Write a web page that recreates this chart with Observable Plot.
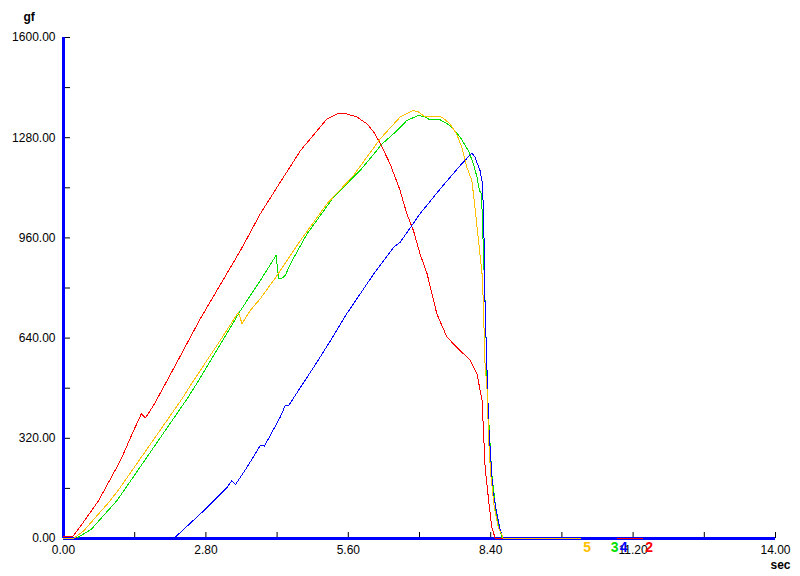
<!DOCTYPE html>
<html><head><meta charset="utf-8">
<script src="https://cdn.jsdelivr.net/npm/d3@7"></script>
<script src="https://cdn.jsdelivr.net/npm/@observablehq/plot@0.6"></script>
<style>body{margin:0;background:#fff}</style>
</head><body><div id="chart"></div>
<script>
// Tick values
const xTicks = [0, 1.4, 2.8, 4.2, 5.6, 7.0, 8.4, 9.8, 11.2, 12.6, 14];
const xLabels = [0, 2.8, 5.6, 8.4, 11.2, 14];
const yTicks = [0, 160, 320, 480, 640, 800, 960, 1120, 1280, 1440, 1600];
const yLabels = [0, 320, 640, 960, 1280, 1600];

// Series 2 (red)
const t2 = [0, 0.18, 0.33, 0.69, 1.12, 1.38, 1.53, 1.61, 1.77, 2.04, 2.69, 3.48, 3.87, 4.20, 4.66, 5.18, 5.38, 5.57, 5.77, 5.97, 6.10, 6.23, 6.42, 6.62, 6.75, 6.88, 7.01, 7.15, 7.34, 7.54, 7.80, 8.00, 8.13, 8.23, 8.26, 8.29, 8.36, 8.42, 8.49, 11.38];
const v2 = [6, 6, 38, 121, 249, 345, 398, 385, 425, 505, 702, 920, 1037, 1122, 1239, 1340, 1356, 1356, 1346, 1324, 1298, 1261, 1197, 1111, 1037, 984, 909, 845, 718, 643, 600, 569, 526, 441, 334, 228, 121, 36, 0, 0];

// Series 3 (green)
const t3 = [0, 0.25, 0.55, 1.05, 1.12, 2.43, 2.66, 3.48, 3.87, 4.18, 4.23, 4.30, 4.36, 4.46, 4.79, 5.31, 5.83, 6.16, 6.23, 6.56, 6.75, 6.98, 7.08, 7.21, 7.41, 7.60, 7.80, 7.96, 8.06, 8.13, 8.18, 8.22, 8.25, 8.30, 8.33, 8.42, 8.52, 8.62, 8.66, 10.70];
const v3 = [0, 0, 30, 121, 137, 446, 505, 728, 824, 904, 829, 832, 840, 877, 973, 1090, 1175, 1239, 1255, 1303, 1335, 1351, 1348, 1337, 1337, 1319, 1282, 1239, 1197, 1154, 1111, 1100, 952, 700, 473, 207, 68, 4, 0, 0];

// Series 4 (blue)
const t4 = [0, 2.17, 2.76, 3.22, 3.31, 3.38, 3.61, 3.87, 3.95, 4.26, 4.36, 4.43, 4.66, 4.92, 5.25, 5.57, 6.10, 6.49, 6.62, 7.01, 7.41, 7.80, 8.03, 8.09, 8.19, 8.24, 8.27, 8.29, 8.33, 8.36, 8.40, 8.44, 8.51, 8.59, 8.65, 10.88];
const v4 = [0, 0, 89, 164, 185, 172, 228, 297, 295, 387, 425, 425, 483, 547, 632, 718, 845, 930, 946, 1037, 1117, 1191, 1231, 1218, 1175, 1133, 952, 739, 526, 366, 260, 153, 89, 26, 0, 0];

// Series 5 (orange)
const t5 = [0, 0.2, 0.4, 0.92, 1.12, 2.33, 2.56, 3.08, 3.44, 3.51, 3.67, 3.87, 4.20, 4.66, 5.18, 5.70, 6.06, 6.23, 6.62, 6.88, 6.98, 7.11, 7.24, 7.44, 7.60, 7.73, 7.83, 7.93, 8.03, 8.09, 8.16, 8.23, 8.26, 8.28, 8.33, 8.36, 8.40, 8.47, 8.55, 8.65, 10.16];
const v5 = [0, 0, 25, 121, 164, 446, 505, 632, 723, 686, 728, 766, 840, 952, 1069, 1159, 1239, 1277, 1346, 1367, 1362, 1346, 1348, 1346, 1324, 1292, 1250, 1186, 1143, 1058, 952, 845, 739, 579, 473, 313, 207, 100, 36, 0, 0];

const seriesNames = ["2", "3", "4", "5"];
const seriesColors = ["#ff0000", "#00e000", "#0000ff", "#ffc000"];
const seriesT = [t2, t3, t4, t5];
const seriesV = [v2, v3, v4, v5];

const rows = [];
seriesNames.forEach((s, i) => seriesT[i].forEach((t, j) => rows.push({series: s, t, v: seriesV[i][j]})));
const ends = seriesNames.map((s, i) => ({series: s, t: seriesT[i][seriesT[i].length - 1], v: 0}));

const W = 800, H = 576, mL = 63, mR = 25, mT = 37, mB = 38;
const fw = W - mL - mR, fh = H - mT - mB;

const chart = Plot.plot({
  width: W, height: H,
  marginLeft: mL, marginRight: mR, marginTop: mT, marginBottom: mB,
  style: {fontFamily: "Arial, 'Liberation Sans', sans-serif", fontSize: "12px", color: "black", background: "white"},
  x: {domain: [0, 14], label: null},
  y: {domain: [0, 1600], label: null},
  color: {domain: seriesNames, range: seriesColors},
  marks: [
    Plot.tickX(xTicks, {x: d => d, stroke: "black", insetTop: fh - 6}),
    Plot.tickY(yTicks, {y: d => d, stroke: "black", insetRight: fw - 7}),
    Plot.ruleX([0], {stroke: "#0000ff", strokeWidth: 3}),
    Plot.ruleY([0], {stroke: "#0000ff", strokeWidth: 3}),
    Plot.line(rows, {x: "t", y: "v", z: "series", stroke: "series", strokeWidth: 1, shapeRendering: "crispEdges"}),
    Plot.axisX({ticks: xLabels, label: null, tickSize: 0, tickPadding: 7, tickFormat: d => d.toFixed(2), fontSize: 12}),
    Plot.axisY({ticks: yLabels, label: null, tickSize: 0, tickPadding: 8, tickFormat: d => d.toFixed(2), fontSize: 12}),
    Plot.text(ends, {x: "t", y: "v", text: "series", fill: "series", dx: 3, dy: 9, textAnchor: "start", fontWeight: "bold", fontSize: 14}),
    Plot.text(["gf"], {text: d => d, frameAnchor: "top-left", dx: -40, dy: -25, textAnchor: "start", fontWeight: "bold", fontSize: 12}),
    Plot.text(["sec"], {text: d => d, frameAnchor: "bottom-right", dx: 15, dy: 30, textAnchor: "end", fontWeight: "bold", fontSize: 12})
  ]
});
document.getElementById("chart").appendChild(chart);
</script>
</body></html>
